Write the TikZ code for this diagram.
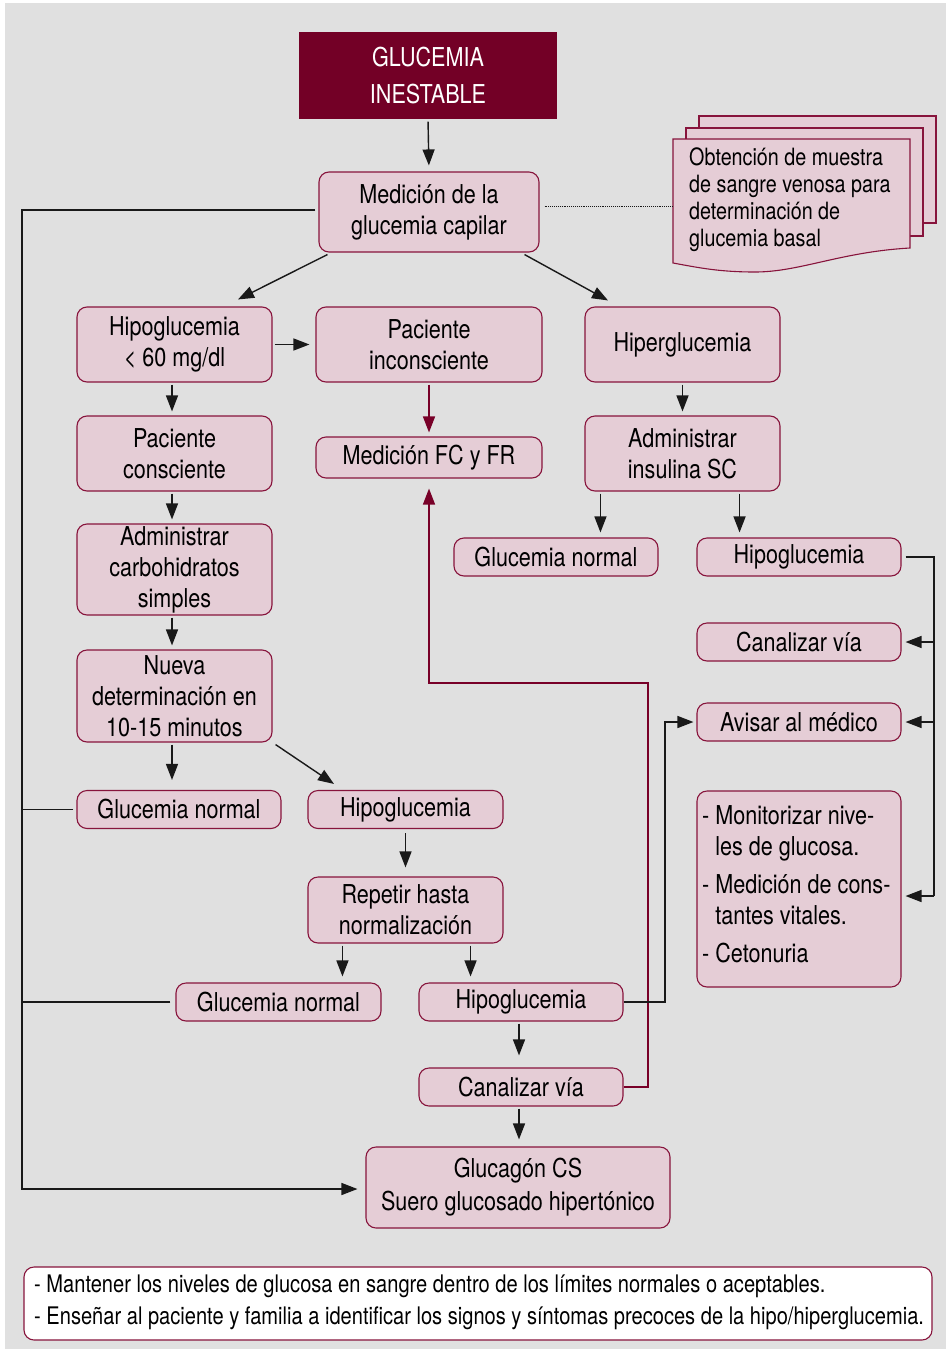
\documentclass[tikz,border=0pt]{standalone}
\usepackage{fontspec}
\setmainfont{TeX Gyre Heros}[FakeStretch=0.83]
\usetikzlibrary{arrows.meta,calc}
\definecolor{bggray}{RGB}{224,224,224}
\definecolor{pinkf}{RGB}{229,205,214}
\definecolor{bord}{RGB}{135,20,60}
\definecolor{topred}{RGB}{115,0,38}
\definecolor{redc}{RGB}{120,0,40}
\definecolor{linec}{RGB}{25,25,25}
\begin{document}
\begin{tikzpicture}[x=1pt,y=-1pt,
  box/.style={draw=bord, fill=pinkf, line width=1.1pt, rounded corners=10pt, align=center, inner sep=0pt, font=\fontsize{26}{31}\selectfont, text=black},
  sbox/.style={box, minimum width=204pt, minimum height=38pt},
  arr/.style={draw=linec, line width=1.4pt, -{Triangle[length=16pt,width=12pt]}},
  ln/.style={draw=linec, line width=1.4pt},
  redarr/.style={draw=redc, line width=1.4pt, -{Triangle[length=16pt,width=12pt]}},
  doc/.style={draw=bord, fill=pinkf, line width=1.1pt}
]
\useasboundingbox (0,0) rectangle (946,1349);
\fill[bggray] (5,3) rectangle (946,1349);

% nodes
\node[box, minimum width=258pt, minimum height=87pt, fill=topred, draw=none, rounded corners=0pt, text=white, font=\fontsize{26}{37}\selectfont] (top) at (428,75.5) {GLUCEMIA\\INESTABLE};
\node[box, minimum width=220pt, minimum height=80pt] (med) at (429,212) {Medición de la\\glucemia capilar};

% document stack
\draw[doc] (699,116) rectangle (936,223);
\draw[doc] (686,128) rectangle (923,236);
\draw[doc] (673,139) -- (910,139) -- (910,248) .. controls (840,252) and (800,272) .. (755,272) .. controls (720,272) and (700,268) .. (673,263) -- cycle;
\node[anchor=west, align=left, inner sep=0pt, font=\fontsize{23.8}{27}\selectfont] (doctext) at (689,200) {Obtención de muestra\\de sangre venosa para\\determinación de\\glucemia basal};
\coordinate (docl) at (673,206);

\node[box, minimum width=195pt, minimum height=75pt] (hipo1) at (174.5,344.5) {Hipoglucemia\\< 60 mg/dl};
\node[box, minimum width=226pt, minimum height=75pt] (incons) at (429,344.5) {Paciente\\inconsciente};
\node[box, minimum width=195pt, minimum height=75pt] (hiper) at (682.5,344.5) {Hiperglucemia};
\node[box, minimum width=195pt, minimum height=75pt] (consc) at (174.5,453.5) {Paciente\\consciente};
\node[box, minimum width=226pt, minimum height=41pt] (fcfr) at (429,457.5) {Medición FC y FR};
\node[box, minimum width=195pt, minimum height=75pt] (insul) at (682.5,453.5) {Administrar\\insulina SC};
\node[box, minimum width=195pt, minimum height=91pt] (carbo) at (174.5,569.5) {Administrar\\carbohidratos\\simples};
\node[sbox] (gnR) at (556,557) {Glucemia normal};
\node[sbox] (hipoR) at (799,557) {Hipoglucemia};
\node[sbox] (canR) at (799,642) {Canalizar vía};
\node[sbox] (avisar) at (799,722) {Avisar al médico};
\node[box, minimum width=195pt, minimum height=92pt] (nueva) at (174.5,696) {Nueva\\determinación en\\10-15 minutos};
\node[sbox] (gnL) at (179,809.5) {Glucemia normal};
\node[sbox, minimum width=195pt] (hipoM) at (405.5,809.5) {Hipoglucemia};
\node[box, minimum width=204pt, minimum height=196pt] (monitor) at (799,889) {};
\node[anchor=west, align=left, inner sep=0pt, font=\fontsize{26}{31}\selectfont] (montext) at (702,884) {- Monitorizar nive-\\\hphantom{- }les de glucosa.\\[7pt]- Medición de cons-\\\hphantom{- }tantes vitales.\\[7pt]- Cetonuria};
\node[box, minimum width=195pt, minimum height=66pt] (repetir) at (405.5,910) {Repetir hasta\\normalización};
\node[sbox, minimum width=205pt] (gnB) at (278.5,1002) {Glucemia normal};
\node[sbox] (hipoB) at (521,1002) {Hipoglucemia};
\node[sbox] (canB) at (521,1087) {Canalizar vía};
\node[box, minimum width=304pt, minimum height=81pt, font=\fontsize{26}{33}\selectfont] (gluc) at (518,1187.5) {Glucagón CS\\Suero glucosado hipertónico};
\node[box, fill=white, minimum width=908pt, minimum height=73pt] (bottom) at (478,1303.5) {};
\node[anchor=west, align=left, inner sep=0pt, font=\fontsize{24.2}{32}\selectfont] (bottext) at (34,1302) {- Mantener los niveles de glucosa en sangre dentro de los límites normales o aceptables.\\- Enseñar al paciente y familia a identificar los signos y síntomas precoces de la hipo/hiperglucemia.};

% helper coordinates
\coordinate (busX) at (22,0);
\coordinate (loopX) at (648,0);
\coordinate (loopY) at (0,683);
\coordinate (avX) at (665,0);
\coordinate (rbus) at (934,0);
\coordinate (monY) at (0,896);

% connectors
\draw[arr, shorten <=2pt, shorten >=6pt] (top.south) -- (med.north);
\draw[densely dotted, draw=linec, line width=0.9pt] ([xshift=5pt,yshift=6pt]med.east) -- (docl);
\draw[arr] ([xshift=9pt,yshift=-2pt]med.south west) -- ([xshift=63.5pt,yshift=7pt]hipo1.north);
\draw[arr] ([xshift=-15pt,yshift=-2pt]med.south east) -- ([xshift=-74.5pt,yshift=6pt]hiper.north);
\draw[arr, shorten <=2pt, shorten >=6pt] (hipo1.east) -- (incons.west);
\draw[arr, shorten <=2pt, shorten >=4pt] ([xshift=-2.5pt]hipo1.south) -- ([xshift=-2.5pt]consc.north);
\draw[redarr, shorten <=2pt, shorten >=4pt] (incons.south) -- (fcfr.north);
\draw[arr, shorten <=2pt, shorten >=4pt] (hiper.south) -- (insul.north);
\draw[arr, shorten <=2pt, shorten >=5pt] ([xshift=16pt]insul.south west) -- ([xshift=16pt]insul.south west |- gnR.north);
\draw[arr, shorten <=2pt, shorten >=5pt] ([xshift=-41pt]insul.south east) -- ([xshift=-41pt]insul.south east |- hipoR.north);
\draw[arr, shorten <=2pt, shorten >=4pt] ([xshift=-2.5pt]consc.south) -- ([xshift=-2.5pt]carbo.north);
\draw[arr, shorten <=2pt, shorten >=4pt] ([xshift=-2.5pt]carbo.south) -- ([xshift=-2.5pt]nueva.north);
\draw[arr, shorten <=2pt, shorten >=10pt] ([xshift=-2.5pt]nueva.south) -- ([xshift=-2.5pt]nueva.south |- gnL.north);
\draw[arr] ([xshift=3pt,yshift=-2pt]nueva.south east) -- ([xshift=-71.5pt,yshift=6pt]hipoM.north);
\draw[arr, shorten <=4pt, shorten >=9pt] (hipoM.south) -- (repetir.north);
\draw[arr, shorten <=2pt, shorten >=6pt] ([xshift=35pt]repetir.south west) -- ([xshift=35pt]repetir.south west |- gnB.north);
\draw[arr, shorten <=2pt, shorten >=6pt] ([xshift=-33pt]repetir.south east) -- ([xshift=-33pt]repetir.south east |- hipoB.north);
\draw[arr, shorten <=2pt, shorten >=12pt] ([xshift=-2pt]hipoB.south) -- ([xshift=-2pt]canB.north);
\draw[arr, shorten <=2pt, shorten >=7pt] ([xshift=-2pt]canB.south) -- ([xshift=-2pt]canB.south |- gluc.north);

% left bus
\draw[arr, shorten >=8pt] ([xshift=-3pt,yshift=2pt]med.west) -- ([yshift=2pt]med.west -| busX) -- ([yshift=-1.5pt]busX |- gluc.west) -- ([yshift=-1.5pt]gluc.west);
\draw[ln] ([xshift=-3pt]gnL.west) -- (gnL.west -| busX);
\draw[ln] ([xshift=-5pt]gnB.west) -- (gnB.west -| busX);

% red loop
\draw[redarr, shorten >=10pt] (canB.east) -- (canB.east -| loopX) -- (loopX |- loopY) -- (fcfr.south |- loopY) -- (fcfr.south);

% to Avisar
\draw[arr, shorten >=3pt] (hipoB.east) -- (hipoB.east -| avX) -- (avX |- avisar.west) -- (avisar.west);

% right bus
\draw[ln] ([xshift=4pt]hipoR.east) -- (hipoR.east -| rbus) -- (rbus |- monY);
\draw[arr, shorten >=4pt] (rbus |- canR.east) -- (canR.east);
\draw[arr, shorten >=4pt] (rbus |- avisar.east) -- (avisar.east);
\draw[arr, shorten >=4pt] (rbus |- monY) -- (monY -| monitor.east);
\end{tikzpicture}
\end{document}
